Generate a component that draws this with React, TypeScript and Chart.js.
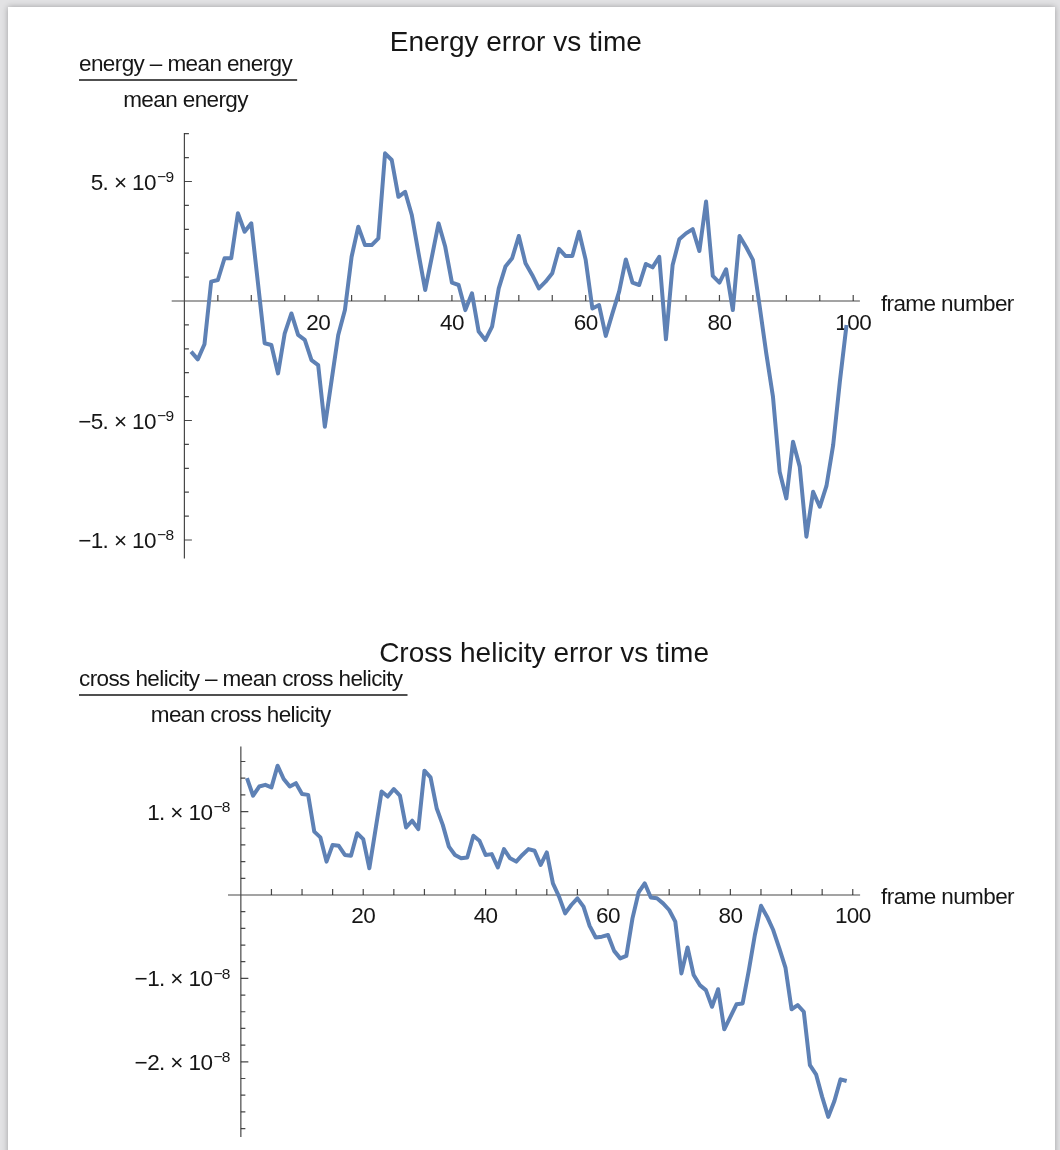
import React, { useEffect, useRef } from "react";
import { Chart, registerables } from "chart.js";

Chart.register(...registerables);

// Frame numbers along the horizontal axis
const frames = Array.from({ length: 99 }, (_, i) => i + 1);

// (energy - mean energy) / mean energy, in units of 1e-9
const energyError = [
  -2.12, -2.44, -1.81, 0.81, 0.88, 1.79, 1.79, 3.67, 2.9, 3.25,
  0.74, -1.77, -1.84, -3.03, -1.35, -0.52, -1.42, -1.63, -2.47, -2.68,
  -5.26, -3.33, -1.42, -0.38, 1.85, 3.11, 2.34, 2.34, 2.62, 6.18,
  5.9, 4.36, 4.57, 3.6, 2.0, 0.46, 1.85, 3.25, 2.27, 0.77,
  0.67, -0.38, 0.32, -1.28, -1.63, -1.07, 0.53, 1.44, 1.79, 2.72,
  1.58, 1.09, 0.53, 0.81, 1.16, 2.18, 1.88, 1.88, 2.9, 1.72,
  -0.31, -0.17, -1.46, -0.52, 0.39, 1.74, 0.77, 0.67, 1.55, 1.41,
  1.85, -1.6, 1.51, 2.58, 2.83, 3.01, 2.09, 4.16, 1.05, 0.77,
  1.33, -0.38, 2.72, 2.25, 1.72, -0.2, -2.19, -4.0, -7.14, -8.26,
  -5.89, -6.93, -9.86, -7.98, -8.61, -7.74, -6.03, -3.38, -1.0,
];

// (cross helicity - mean cross helicity) / mean cross helicity, in units of 1e-9
const crossHelicityError = [
  14.0, 11.9, 13.0, 13.2, 12.9, 15.5, 13.9, 13.0, 13.4, 12.1,
  12.0, 7.6, 6.9, 4.0, 6.0, 5.9, 4.8, 4.7, 7.4, 6.7,
  3.2, 7.8, 12.4, 11.8, 12.7, 11.9, 8.1, 8.9, 7.9, 14.9,
  14.1, 10.4, 8.4, 5.8, 4.8, 4.4, 4.5, 7.1, 6.5, 4.8,
  4.9, 3.3, 5.5, 4.4, 4.0, 4.8, 5.5, 5.3, 3.6, 5.1,
  1.4, -0.2, -2.2, -1.2, -0.4, -1.4, -3.7, -5.1, -5.0, -4.8,
  -6.7, -7.6, -7.3, -2.8, 0.3, 1.4, -0.3, -0.4, -1.0, -1.8,
  -3.2, -9.4, -6.3, -9.6, -10.8, -11.4, -13.4, -11.3, -16.1, -14.6,
  -13.1, -13.0, -9.1, -4.8, -1.3, -2.6, -4.2, -6.4, -8.7, -13.7,
  -13.2, -14.0, -20.4, -21.5, -24.2, -26.6, -24.7, -22.1, -22.3,
];

const NANO = 1e-9;

// Horizontal ticks (shared by both plots)
const xMajorTicks = [20, 40, 60, 80, 100];
const xMinorStep = 5;

// Vertical ticks: labelled values, label text as [mantissa, exponent]
const energyYTicks = [5e-9, -5e-9, -1e-8];
const energyYLabels = [
  ["5. × 10", "−9"],
  ["−5. × 10", "−9"],
  ["−1. × 10", "−8"],
];
const energyYMinorStep = 1e-9;

const crossYTicks = [1e-8, -1e-8, -2e-8];
const crossYLabels = [
  ["1. × 10", "−8"],
  ["−1. × 10", "−8"],
  ["−2. × 10", "−8"],
];
const crossYMinorStep = 2e-9;

const FONT = '"Liberation Sans", Arial, Helvetica, sans-serif';
const LINE_COLOR = "#5E81B5";
const AXIS_COLOR = "rgba(40,40,40,0.85)";
const TEXT_COLOR = "#161616";

type AxesSpec = {
  title: string;
  titleBaseline: number;
  numerator: string;
  denominator: string;
  fracLeft: number;
  fracLineY: number;
  yTicks: number[];
  yLabels: string[][];
  yMinorStep: number;
  yMajorStep: number;
  axisName: string;
};

function mathematicaAxes(spec: AxesSpec) {
  return {
    id: "mathematicaAxes",
    beforeDatasetsDraw(chart: any) {
      const { ctx, chartArea, scales } = chart;
      const xs = scales.x;
      const ys = scales.y;
      const ox = xs.getPixelForValue(0);
      const oy = ys.getPixelForValue(0);

      ctx.save();
      ctx.strokeStyle = AXIS_COLOR;
      ctx.lineWidth = 1.2;

      // axis lines crossing at the origin
      ctx.beginPath();
      ctx.moveTo(chartArea.left, oy);
      ctx.lineTo(chartArea.right, oy);
      ctx.moveTo(ox, chartArea.top);
      ctx.lineTo(ox, chartArea.bottom);
      ctx.stroke();

      // x tick marks, pointing up from the axis
      ctx.beginPath();
      for (let i = 1; i * xMinorStep <= xs.max; i++) {
        const px = xs.getPixelForValue(i * xMinorStep);
        ctx.moveTo(px, oy);
        ctx.lineTo(px, oy - 6);
      }
      // y tick marks, pointing right from the axis
      const lo = Math.ceil(ys.min / spec.yMinorStep - 1e-6);
      const hi = Math.floor(ys.max / spec.yMinorStep + 1e-6);
      const ratio = Math.round(spec.yMajorStep / spec.yMinorStep);
      for (let i = lo; i <= hi; i++) {
        if (i === 0) continue;
        const py = ys.getPixelForValue(i * spec.yMinorStep);
        const len = i % ratio === 0 ? 7.5 : 4.5;
        ctx.moveTo(ox, py);
        ctx.lineTo(ox + len, py);
      }
      ctx.stroke();

      ctx.fillStyle = TEXT_COLOR;
      (ctx as any).letterSpacing = "-0.6px";

      // x tick labels
      ctx.font = `22.5px ${FONT}`;
      ctx.textAlign = "center";
      ctx.textBaseline = "alphabetic";
      xMajorTicks.forEach((v) => {
        ctx.fillText(String(v), xs.getPixelForValue(v), oy + 28.5);
      });

      // y tick labels with superscript exponent
      spec.yTicks.forEach((v, i) => {
        const py = ys.getPixelForValue(v);
        const [mant, exp] = spec.yLabels[i];
        const right = ox - 11;
        ctx.font = `15.5px ${FONT}`;
        const ew = ctx.measureText(exp).width;
        ctx.textAlign = "left";
        ctx.fillText(exp, right - ew, py + 0.5);
        ctx.font = `22.5px ${FONT}`;
        ctx.textAlign = "right";
        ctx.fillText(mant, right - ew - 1, py + 8);
      });

      // horizontal axis name
      ctx.textAlign = "left";
      ctx.fillText(spec.axisName, chartArea.right + 21, oy + 9.5);

      // vertical axis label as a fraction
      const numW = ctx.measureText(spec.numerator).width;
      ctx.fillText(spec.numerator, spec.fracLeft, spec.fracLineY - 9);
      ctx.textAlign = "center";
      ctx.fillText(spec.denominator, spec.fracLeft + numW / 2, spec.fracLineY + 27);
      ctx.strokeStyle = TEXT_COLOR;
      ctx.lineWidth = 1.6;
      ctx.beginPath();
      ctx.moveTo(spec.fracLeft, spec.fracLineY);
      ctx.lineTo(spec.fracLeft + numW + 5, spec.fracLineY);
      ctx.stroke();

      // title centred over the plot
      (ctx as any).letterSpacing = "0px";
      ctx.font = `28px ${FONT}`;
      ctx.textAlign = "center";
      ctx.fillText(spec.title, (chartArea.left + chartArea.right) / 2, spec.titleBaseline);

      ctx.restore();
    },
  };
}

function makeChart(
  canvas: HTMLCanvasElement,
  values: number[],
  xRange: [number, number],
  yRange: [number, number],
  padding: { left: number; right: number; top: number; bottom: number },
  spec: AxesSpec
) {
  return new Chart(canvas, {
    type: "line",
    data: {
      datasets: [
        {
          data: frames.map((f, i) => ({ x: f, y: values[i] * NANO })),
          borderColor: LINE_COLOR,
          borderWidth: 4,
          borderJoinStyle: "round",
          pointRadius: 0,
          tension: 0,
          fill: false,
        },
      ],
    },
    options: {
      animation: false,
      responsive: false,
      maintainAspectRatio: false,
      events: [],
      layout: { padding },
      scales: {
        x: { type: "linear", min: xRange[0], max: xRange[1], display: false },
        y: { type: "linear", min: yRange[0], max: yRange[1], display: false },
      },
      plugins: {
        legend: { display: false },
        tooltip: { enabled: false },
        title: { display: false },
      },
    },
    plugins: [mathematicaAxes(spec)],
  } as any);
}

export default function App() {
  const energyRef = useRef<HTMLCanvasElement>(null);
  const crossRef = useRef<HTMLCanvasElement>(null);

  useEffect(() => {
    const energyChart = makeChart(
      energyRef.current!,
      energyError,
      [-1.9, 101],
      [-1.077e-8, 7.03e-9],
      { left: 171.7, right: 200.1, top: 133, bottom: 41.6 },
      {
        title: "Energy error vs time",
        titleBaseline: 51,
        numerator: "energy – mean energy",
        denominator: "mean energy",
        fracLeft: 79,
        fracLineY: 80,
        yTicks: energyYTicks,
        yLabels: energyYLabels,
        yMinorStep: energyYMinorStep,
        yMajorStep: 5e-9,
        axisName: "frame number",
      }
    );
    const crossChart = makeChart(
      crossRef.current!,
      crossHelicityError,
      [-2.1, 101.2],
      [-2.9e-8, 1.78e-8],
      { left: 228, right: 199.9, top: 146.5, bottom: 13.1 },
      {
        title: "Cross helicity error vs time",
        titleBaseline: 62,
        numerator: "cross helicity – mean cross helicity",
        denominator: "mean cross helicity",
        fracLeft: 79,
        fracLineY: 95,
        yTicks: crossYTicks,
        yLabels: crossYLabels,
        yMinorStep: crossYMinorStep,
        yMajorStep: 1e-8,
        axisName: "frame number",
      }
    );
    return () => {
      energyChart.destroy();
      crossChart.destroy();
    };
  }, []);

  return (
    <div
      style={{
        position: "fixed",
        left: 0,
        top: 0,
        width: 1060,
        height: 1150,
        background: "#e2e2e4",
        overflow: "hidden",
      }}
    >
      <div
        style={{
          position: "absolute",
          left: 8,
          top: 7,
          width: 1047,
          height: 1200,
          background: "#ffffff",
          boxShadow: "0 0 6px rgba(0,0,0,0.3)",
        }}
      />
      <canvas
        ref={energyRef}
        width={1060}
        height={600}
        style={{ position: "absolute", left: 0, top: 0 }}
      />
      <canvas
        ref={crossRef}
        width={1060}
        height={550}
        style={{ position: "absolute", left: 0, top: 600 }}
      />
    </div>
  );
}
